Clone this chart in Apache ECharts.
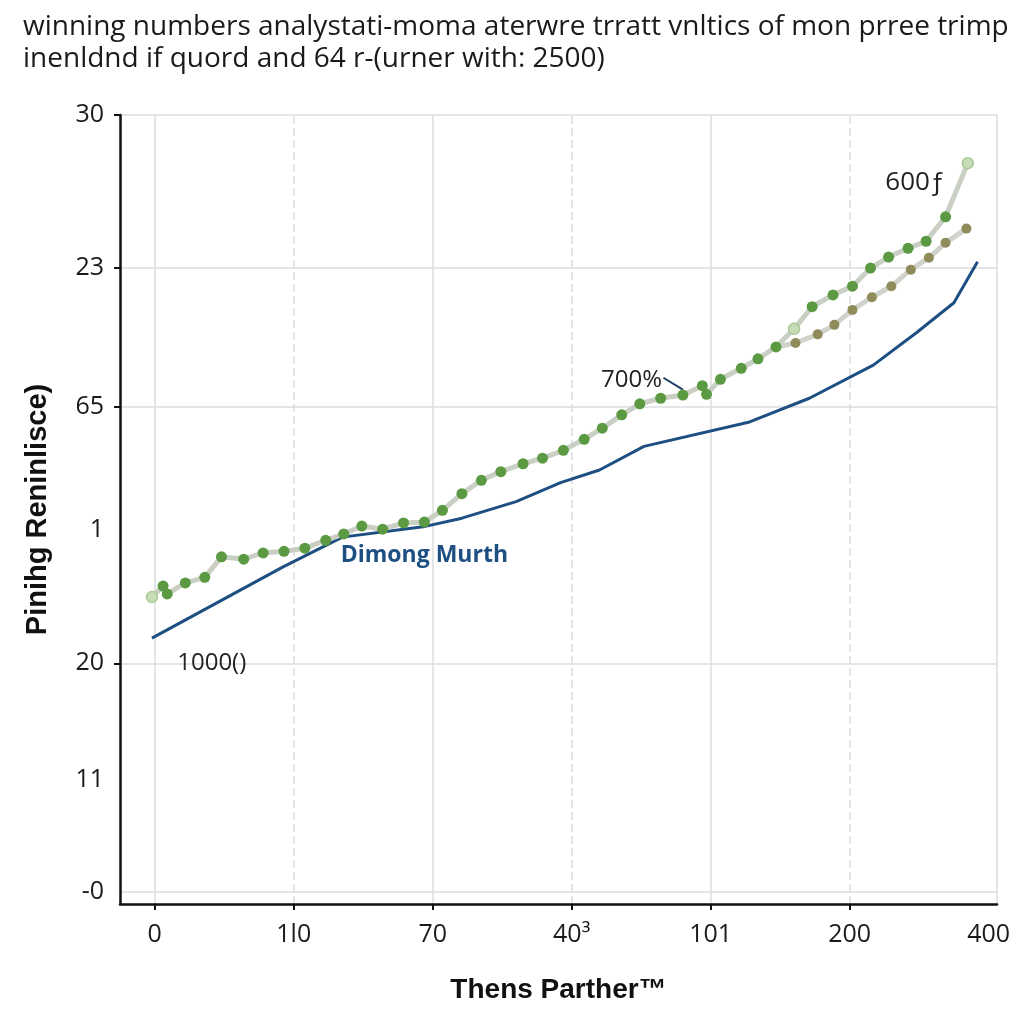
<!DOCTYPE html>
<html>
<head>
<meta charset="utf-8">
<script src="https://cdn.jsdelivr.net/npm/echarts@6/dist/echarts.min.js"></script>
<style>html,body{margin:0;padding:0;background:#fff}#c{width:1024px;height:1024px}</style>
</head>
<body>
<div id="c"></div>
<script>
// ---- data ----
var titleLines = ['winning numbers analystati-moma aterwre trratt vnltics of mon prree trimp',
                  'inenldnd if quord and 64 r-(urner with: 2500)'];
var xTickLabels = ['0', '1l0', '70', '40³', '101', '200', '400'];
var xTickValues = [0, 1, 2, 3, 4, 5, 6];
var xTickMarks = [0, 1, 2, 3, 4, 5];
var xGridValues = [0, 1, 2, 3, 4, 5, 6.06];
var yTickLabels = ['-0', '11', '20', '1', '65', '23', '30'];
var yTickValues = [1.6, 15.7, 30.5, 47.4, 63.0, 80.6, 100];
var yGridValues = [1.6, 30.5, 63.0, 80.6, 100];
var yTickMarks = [30.5, 63.0, 80.6, 100];

var blueX = [-0.02, 0.92, 1.35, 1.93, 2.21, 2.60, 2.92, 3.20, 3.52, 4.28, 4.71, 5.17, 5.48, 5.75, 5.92];
var blueY = [33.7, 42.7, 46.5, 47.8, 48.9, 51.0, 53.4, 55.0, 58.0, 61.1, 64.1, 68.3, 72.4, 76.2, 81.4];

var greenX = [-0.02, 0.06, 0.09, 0.22, 0.36, 0.48, 0.64, 0.78, 0.93, 1.08, 1.23, 1.36, 1.49, 1.64, 1.79, 1.94,
              2.07, 2.21, 2.35, 2.49, 2.65, 2.79, 2.94, 3.09, 3.22, 3.36, 3.49, 3.64, 3.80, 3.94, 3.97, 4.07,
              4.22, 4.34, 4.47, 4.60, 4.73, 4.88, 5.02, 5.15, 5.28, 5.42, 5.55, 5.69, 5.85];
var greenY = [38.9, 40.3, 39.3, 40.7, 41.4, 44.0, 43.7, 44.5, 44.7, 45.1, 46.1, 46.9, 47.9, 47.5, 48.3, 48.4,
              49.9, 52.0, 53.7, 54.8, 55.8, 56.5, 57.5, 58.9, 60.3, 62.0, 63.4, 64.1, 64.5, 65.7, 64.6, 66.5,
              67.9, 69.1, 70.6, 72.9, 75.7, 77.2, 78.3, 80.6, 82.0, 83.1, 84.0, 87.1, 93.9];
var greenPale = [0, 35, 44];

var oliveX = [4.47, 4.61, 4.77, 4.89, 5.02, 5.16, 5.30, 5.44, 5.57, 5.69, 5.84];
var oliveY = [70.6, 71.1, 72.2, 73.4, 75.3, 76.9, 78.3, 80.4, 81.9, 83.8, 85.6];

var notes = [
  {text: 'Dimong Murth', x: 1.94, y: 44.2, color: '#1d4f82', bold: true, size: 23},
  {text: '1000()', x: 0.41, y: 30.5, color: '#222', bold: false, size: 24},
  {text: '700%', x: 3.43, y: 66.4, color: '#222', bold: false, size: 24},
  {text: '600ƒ', x: 5.47, y: 91.4, color: '#222', bold: false, size: 26}
];
var pointerLine = [[3.66, 66.7], [3.80, 65.2]];

// ---- build ----
var FONT = 'Open Sans';
function pairs(xs, ys) { return xs.map(function (x, i) { return [x, ys[i]]; }); }
var yLabelMap = {};
yTickValues.forEach(function (v, i) { yLabelMap[v.toFixed(1)] = yTickLabels[i]; });
var xLabelMap = {};
xTickValues.forEach(function (v, i) { xLabelMap[v.toFixed(1)] = xTickLabels[i]; });

var greenData = pairs(greenX, greenY).map(function (p, i) {
  if (greenPale.indexOf(i) >= 0) {
    return {value: p, itemStyle: {color: '#c7ddb8', borderColor: '#a9c995', borderWidth: 1.5}};
  }
  return p;
});

var gridLines = [];
yGridValues.forEach(function (v) {
  gridLines.push({yAxis: v, lineStyle: {color: '#dcdcdc', width: 1.5, type: 'solid'}});
});
xGridValues.forEach(function (v, i) {
  gridLines.push({xAxis: v, lineStyle: {color: '#dcdcdc', width: 1.5, type: (i % 2) ? [8, 4] : 'solid'}});
});

var chart = echarts.init(document.getElementById('c'), null, {renderer: 'canvas'});
chart.setOption({
  animation: false,
  backgroundColor: '#fff',
  title: {
    text: titleLines.join('\n'),
    left: 18, top: 6,
    textStyle: {fontFamily: FONT, fontSize: 28, fontWeight: 'normal', color: '#1a1a1a', lineHeight: 32}
  },
  grid: {left: 120, right: 27, top: 115, bottom: 120},
  xAxis: {
    type: 'value', min: -0.25, max: 6.06,
    name: 'Thens Parther™', nameLocation: 'middle', nameGap: 72,
    nameTextStyle: {fontFamily: 'Liberation Sans', fontWeight: 'bold', fontSize: 28, color: '#111'},
    axisLine: {show: true, onZero: false, lineStyle: {color: '#111', width: 2.5}},
    axisTick: {show: true, length: 6, customValues: xTickMarks, lineStyle: {color: '#111', width: 2}},
    axisLabel: {
      customValues: xTickValues, margin: 18,
      fontFamily: FONT, fontSize: 25, color: '#1a1a1a',
      formatter: function (v) { return xLabelMap[v.toFixed(1)] || ''; }
    },
    splitLine: {show: false}
  },
  yAxis: {
    type: 'value', min: 0, max: 100,
    name: 'Pinihg Reninlisce)', nameLocation: 'middle', nameGap: 68, nameRotate: 90,
    nameTextStyle: {fontFamily: 'Liberation Sans', fontWeight: 'bold', fontSize: 29, color: '#111'},
    axisLine: {show: true, onZero: false, lineStyle: {color: '#111', width: 2.5}},
    axisTick: {show: true, length: 6, customValues: yTickMarks, lineStyle: {color: '#111', width: 2}},
    axisLabel: {
      customValues: yTickValues, margin: 16,
      fontFamily: FONT, fontSize: 25, color: '#1a1a1a',
      formatter: function (v) { return yLabelMap[v.toFixed(1)] || ''; }
    },
    splitLine: {show: false}
  },
  series: [
    {
      name: 'grid', type: 'line', data: [], silent: true,
      markLine: {silent: true, symbol: 'none', label: {show: false}, data: gridLines, z: 0}
    },
    {
      name: 'Dimong Murth', type: 'line', data: pairs(blueX, blueY),
      showSymbol: false, symbol: 'none',
      lineStyle: {color: '#1d4f82', width: 3}, z: 3,
      markPoint: {
        symbol: 'circle', symbolSize: 0, silent: true,
        data: notes.map(function (n) {
          return {
            coord: [n.x, n.y], value: n.text,
            label: {show: true, position: 'inside', formatter: n.text,
                    fontFamily: FONT, fontSize: n.size, fontWeight: n.bold ? 'bold' : 'normal', color: n.color}
          };
        })
      },
      markLine: {
        silent: true, symbol: 'none', label: {show: false},
        lineStyle: {color: '#1d3f66', width: 2, type: 'solid'},
        data: [[{coord: pointerLine[0]}, {coord: pointerLine[1]}]]
      }
    },
    {
      name: 'olive', type: 'line', data: pairs(oliveX, oliveY),
      symbol: 'circle', symbolSize: 10, showSymbol: true,
      lineStyle: {color: '#cfd3cb', width: 5},
      itemStyle: {color: '#8f8b5b'}, z: 4
    },
    {
      name: 'green', type: 'line', data: greenData,
      symbol: 'circle', symbolSize: 11, showSymbol: true,
      lineStyle: {color: '#c9cfc3', width: 5},
      itemStyle: {color: '#5b9a42'}, z: 5
    }
  ]
});
</script>
</body>
</html>
